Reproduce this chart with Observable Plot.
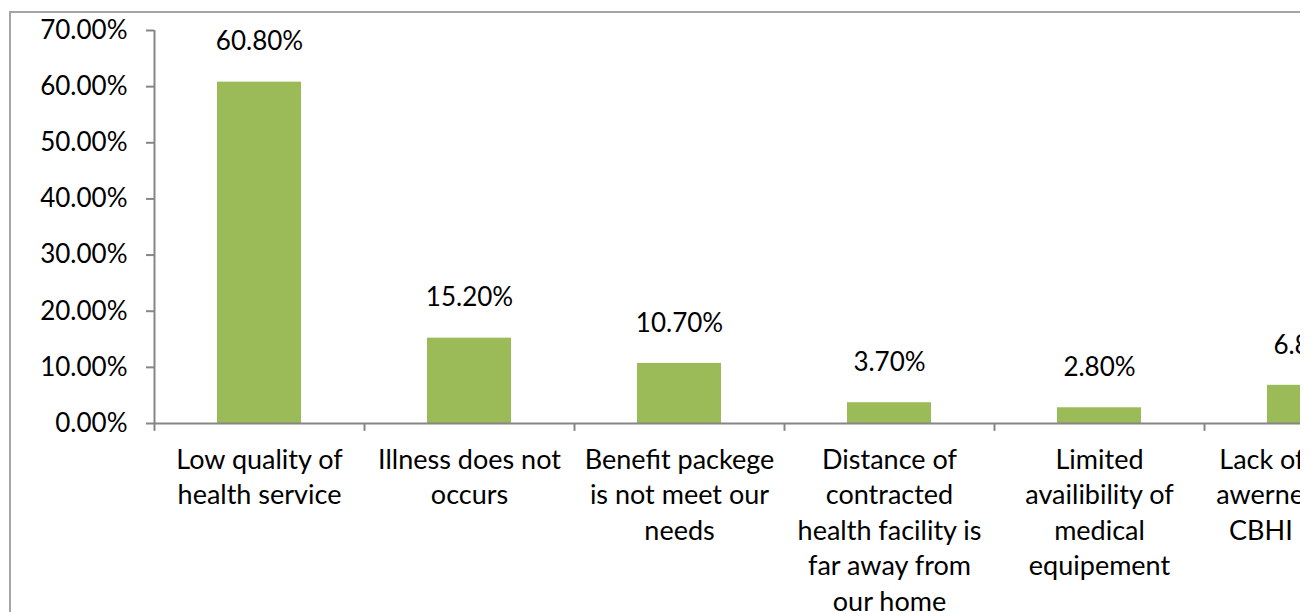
<!DOCTYPE html>
<html><head><meta charset="utf-8">
<script src="https://cdn.jsdelivr.net/npm/d3@7"></script>
<script src="https://cdn.jsdelivr.net/npm/@observablehq/plot@0.6"></script>
<style>
body{margin:0;background:#fff;}
#wrap{position:relative;width:1300px;height:612px;overflow:hidden;background:#fff;}
#chart svg{max-width:none !important;}
#border{position:absolute;left:9px;top:11px;right:0;bottom:-10px;border-left:2px solid #a5a5a5;border-top:2px solid #a5a5a5;pointer-events:none}
</style></head><body>
<div id="wrap"><div id="chart"></div><div id="border"></div></div>
<script>
const categories = [
  "Low quality of health service",
  "Illness does not occurs",
  "Benefit packege is not meet our needs",
  "Distance of contracted health facility is far away from our home",
  "Limited availibility of medical equipement",
  "Lack of enough awerness about CBHI scheme"
];
const tickLabels = [
  "Low quality of\nhealth service",
  "Illness does not\noccurs",
  "Benefit packege\nis not meet our\nneeds",
  "Distance of\ncontracted\nhealth facility is\nfar away from\nour home",
  "Limited\navailibility of\nmedical\nequipement",
  "Lack of enough\nawerness about\nCBHI scheme"
];
const values = [0.608, 0.152, 0.107, 0.037, 0.028, 0.068];
const yTicks = [0, 0.1, 0.2, 0.3, 0.4, 0.5, 0.6, 0.7];

const data = categories.map((c, i) => ({category: c, value: values[i]}));
const labelOf = new Map(categories.map((c, i) => [c, tickLabels[i]]));
const pct = d3.format(".2%");
const axisGrey = "#868686";

const chart = Plot.plot({
  width: 1414, height: 612,
  marginLeft: 154, marginRight: 0, marginTop: 30, marginBottom: 189,
  style: {fontFamily: "Lato", fontSize: "26px", color: "#000", background: "transparent", overflow: "visible", maxWidth: "none"},
  x: {domain: categories, type: "band", paddingInner: 0.6, paddingOuter: 0.3, axis: null, label: null},
  y: {domain: [0, 0.7], axis: null, label: null},
  marks: [
    Plot.barY(data, {x: "category", y: "value", fill: "#9BBB59"}),
    Plot.axisY({ticks: yTicks, tickFormat: pct, tickSize: 8, tickPadding: 19, stroke: axisGrey, strokeWidth: 2, fill: "#000", fontSize: 26, label: null}),
    Plot.axisX({tickSize: 0, tickPadding: 20, tickFormat: d => labelOf.get(d), lineHeight: 1.315, fill: "#000", fontSize: 27, label: null}),
    Plot.ruleY([0], {stroke: axisGrey, strokeWidth: 2}),
    Plot.ruleX([categories[0]], {y1: 0, y2: 0.7, dx: -105, stroke: axisGrey, strokeWidth: 2}),
    Plot.ruleX(categories, {y1: 0, y2: -0.014, dx: -105, stroke: axisGrey, strokeWidth: 2}),
    Plot.text(data, {x: "category", y: "value", text: d => pct(d.value), dy: -40, fill: "#000", fontSize: 26})
  ]
});
document.getElementById("chart").appendChild(chart);
</script>
</body></html>
